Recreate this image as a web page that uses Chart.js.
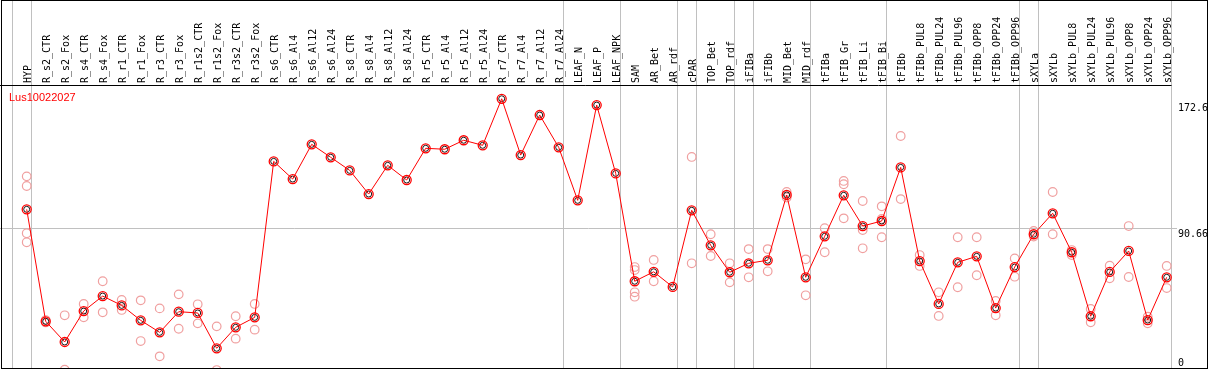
<!DOCTYPE html>
<html>
<head>
<meta charset="utf-8">
<script src="https://cdn.jsdelivr.net/npm/chart.js@4/dist/chart.umd.min.js"></script>
<style>
  html, body { margin: 0; padding: 0; background: #fff; }
  #wrap { width: 1209px; height: 370px; }
</style>
</head>
<body>
<div id="wrap"><canvas id="chart" width="1209" height="370"></canvas></div>
<script>
const title = "Lus10022027";

const categories = [
  "HYP", "R_s2_CTR", "R_s2_Fox", "R_s4_CTR", "R_s4_Fox", "R_r1_CTR", "R_r1_Fox",
  "R_r3_CTR", "R_r3_Fox", "R_r1s2_CTR", "R_r1s2_Fox", "R_r3s2_CTR", "R_r3s2_Fox",
  "R_s6_CTR", "R_s6_Al4", "R_s6_Al12", "R_s6_Al24", "R_s8_CTR", "R_s8_Al4",
  "R_s8_Al12", "R_s8_Al24", "R_r5_CTR", "R_r5_Al4", "R_r5_Al12", "R_r5_Al24",
  "R_r7_CTR", "R_r7_Al4", "R_r7_Al12", "R_r7_Al24", "LEAF_N", "LEAF_P", "LEAF_NPK",
  "SAM", "AR_Bet", "AR_rdf", "cPAR", "TOP_Bet", "TOP_rdf", "iFIBa", "iFIBb",
  "MID_Bet", "MID_rdf", "tFIBa", "tFIB_Gr", "tFIB_Li", "tFIB_Bi", "tFIBb",
  "tFIBb_PUL8", "tFIBb_PUL24", "tFIBb_PUL96", "tFIBb_OPP8", "tFIBb_OPP24", "tFIBb_OPP96",
  "sXYLa", "sXYLb", "sXYLb_PUL8", "sXYLb_PUL24", "sXYLb_PUL96", "sXYLb_OPP8",
  "sXYLb_OPP24", "sXYLb_OPP96",
];

// mean expression per sample group
const means = [
  102.5, 31.5, 18.4, 38.0, 47.5, 41.6, 32.1, 24.5, 37.6, 36.8, 14.4, 27.7, 34.0,
  132.9, 121.7, 143.7, 135.5, 127.2, 112.2, 130.4, 121.1, 141.2, 140.6, 146.3, 143.1,
  172.6, 136.9, 162.3, 141.8, 108.2, 168.6, 125.3,
  56.9, 62.9, 53.3, 101.9, 79.7, 62.6, 68.3, 70.2, 111.6, 59.4,
  85.4, 111.4, 91.9, 95.1, 129.1, 69.7, 42.5, 68.9, 72.7, 39.9, 65.9,
  86.7, 100.0, 75.3, 34.7, 62.8, 76.1, 32.3, 59.4,
];

// individual replicates (null = not shown)
const noReps = Array(19).fill(null); // R_s6_CTR .. LEAF_NPK
const repA = [
  123.4, 32.3, 35.3, 42.5, 56.9, 45.0, 44.8, 39.7, 48.6, 42.3, 28.3, 34.7, 42.5,
  ...noReps,
  65.9, 70.4, null, 135.7, 86.7, 68.3, 77.3, 77.3, 113.5, 70.8,
  90.5, 120.5, 107.8, 104.4, 149.0, 73.5, 49.9, 84.8, 84.8, 44.4, 71.4,
  88.8, 113.5, 76.7, 39.3, 66.8, 91.9, 34.4, 66.6,
];
const repB = [
  117.3, 30.8, 0.8, 34.0, 37.2, 38.7, 19.0, 9.3, 26.8, 30.2, 0.6, 20.5, 26.2,
  ...noReps,
  64.0, 56.9, null, 68.3, 72.9, 56.2, 59.4, 63.2, 110.0, 48.0,
  75.3, 118.4, 89.4, 96.4, 109.0, 66.6, 34.9, 53.1, 60.7, 35.3, 59.8,
  85.2, 86.7, 73.5, 30.9, 58.8, 59.6, 30.2, 52.6,
];
const repC = categories.map(() => null);
const repD = categories.map(() => null);
repC[0] = 87.3;  repD[0] = 81.6;   // HYP
repC[32] = 49.9; repD[32] = 47.1;  // SAM
repC[43] = 96.8;                   // tFIB_Gr
repC[44] = 77.8;                   // tFIB_Li
repC[45] = 84.8;                   // tFIB_Bi

const yTicks = [0, 90.66, 172.6];
// separators sit just right of these sample indices
const groupEnds = [-1, 0, 28, 31, 34, 35, 37, 38, 41, 45, 52, 53, 60];

const pts = arr => arr.map((v, i) => ({ x: i, y: v }));
const MONO = '"DejaVu Sans Mono", monospace';

const repSet = (arr) => ({
  data: pts(arr), showLine: false, order: 2,
  pointRadius: 4.3, pointBorderWidth: 1.2,
  pointBorderColor: "#f0a0a0", pointBackgroundColor: "rgba(0,0,0,0)",
  clip: { left: 6, right: 8, top: 6, bottom: 0 },
});

const decor = {
  id: "decor",
  beforeDraw(chart) {
    const { ctx, chartArea: a, scales } = chart;
    ctx.save();
    ctx.fillStyle = "#fff";
    ctx.fillRect(0, 0, chart.width, chart.height);
    ctx.strokeStyle = "#c0c0c0";
    ctx.lineWidth = 1;
    for (const g of groupEnds) {
      const x = Math.round(scales.x.getPixelForValue(g + 0.2)) + 0.5;
      ctx.beginPath(); ctx.moveTo(x, 0); ctx.lineTo(x, a.bottom); ctx.stroke();
    }
    for (const t of yTicks.slice(1, -1)) {
      const y = Math.round(scales.y.getPixelForValue(t)) + 0.5;
      ctx.beginPath(); ctx.moveTo(0, y); ctx.lineTo(a.right, y); ctx.stroke();
    }
    ctx.restore();
  },
  afterDraw(chart) {
    const { ctx, chartArea: a, scales } = chart;
    ctx.save();
    ctx.strokeStyle = "#000";
    ctx.lineWidth = 1;
    // header rule and frame
    const lastSep = Math.round(scales.x.getPixelForValue(groupEnds[groupEnds.length - 1] + 0.2)) + 0.5;
    ctx.beginPath(); ctx.moveTo(0, a.top - 0.5); ctx.lineTo(lastSep, a.top - 0.5); ctx.stroke();
    ctx.strokeRect(1.5, 0.5, chart.width - 3, a.bottom);
    // right-hand value labels
    ctx.font = `10px ${MONO}`;
    ctx.fillStyle = "#000";
    ctx.textAlign = "left";
    ctx.textBaseline = "alphabetic";
    yTicks.forEach((t, i) => {
      const p = scales.y.getPixelForValue(t);
      const extra = i === yTicks.length - 1 ? 4 : 0;
      const base = Math.min(p + 8.5 + extra, a.bottom - 2.5);
      ctx.fillText(String(t), a.right + 1, base);
    });
    // gene id
    ctx.font = '11px "Liberation Sans", Arial, sans-serif';
    ctx.fillStyle = "#ff0000";
    ctx.fillText(title, 9, a.top + 14.5);
    ctx.restore();
  },
};

new Chart(document.getElementById("chart"), {
  type: "line",
  data: {
    datasets: [
      {
        data: pts(means), order: 0,
        borderColor: "#ff0000", borderWidth: 1, tension: 0,
        pointRadius: 4.5, pointBorderWidth: 1.3,
        pointBorderColor: "#ff0000", pointBackgroundColor: "rgba(0,0,0,0)",
        clip: { left: 6, right: 8, top: 6, bottom: 0 },
      },
      {
        data: pts(means), order: 1, showLine: false,
        pointRadius: 3, pointBorderWidth: 0.9,
        pointBorderColor: "#000", pointBackgroundColor: "rgba(0,0,0,0)",
        clip: { left: 6, right: 8, top: 6, bottom: 0 },
      },
      repSet(repA), repSet(repB), repSet(repC), repSet(repD),
    ],
  },
  options: {
    responsive: false,
    animation: false,
    devicePixelRatio: 1,
    events: [],
    layout: { autoPadding: false, padding: { left: 2, right: 32, top: 0, bottom: 2 } },
    plugins: { legend: { display: false }, tooltip: { enabled: false } },
    scales: {
      x: {
        type: "linear", position: "top", min: -1.3, max: 60.542,
        afterBuildTicks: s => { s.ticks = categories.map((_, i) => ({ value: i })); },
        afterFit: s => { s.height = 86; s.paddingLeft = 0; s.paddingRight = 0; },
        grid: { display: false, drawTicks: false },
        border: { display: false },
        ticks: {
          autoSkip: false, minRotation: 90, maxRotation: 90, padding: 3,
          labelOffset: 13.5,
          color: "#000", font: { family: MONO, size: 10 },
          callback: v => categories[v],
        },
      },
      y: { display: false, min: 1.9, max: 180.7 },
    },
  },
  plugins: [decor],
});
</script>
</body>
</html>
